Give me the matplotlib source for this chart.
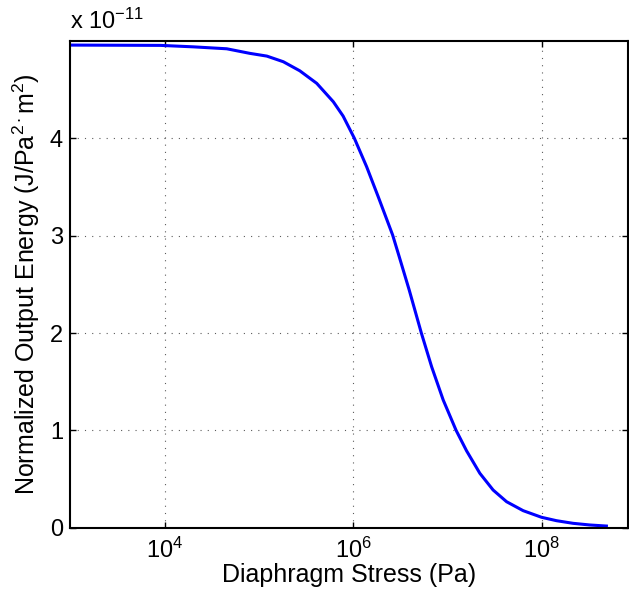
#!/usr/bin/env python3
"""Normalized output energy vs diaphragm stress."""

import numpy as np
import matplotlib
matplotlib.use("Agg")
import matplotlib.pyplot as plt
import matplotlib.ticker as ticker

plt.rcParams["font.family"] = ["Liberation Sans", "DejaVu Sans"]
plt.rcParams["mathtext.fontset"] = "custom"
plt.rcParams["mathtext.rm"] = "Liberation Sans"
plt.rcParams["mathtext.it"] = "Liberation Sans"
plt.rcParams["mathtext.default"] = "regular"

# ── Data (log10 stress, energy in 1e-11 units) ───────────────────────────────
log_stress = [2.99, 3.95, 4.30, 4.655, 4.90, 5.08, 5.255, 5.43, 5.61, 5.786,
              5.89, 6.01, 6.14, 6.263, 6.416, 6.486, 6.592, 6.72, 6.83,
              6.953, 7.09, 7.201, 7.342, 7.483, 7.626, 7.802, 7.997, 8.156,
              8.332, 8.509, 8.686]
energy_e11 = [4.958, 4.955, 4.94, 4.92, 4.873, 4.845, 4.787, 4.694, 4.565,
              4.376, 4.229, 4.0, 3.708, 3.40, 3.007, 2.784, 2.442, 2.003,
              1.654, 1.312, 1.0, 0.79, 0.559, 0.387, 0.267, 0.175, 0.107,
              0.072, 0.045, 0.028, 0.017]

x_ticks = [1e4, 1e6, 1e8]
y_ticks = [0, 1, 2, 3, 4]

stress = 10 ** np.array(log_stress)
energy = np.array(energy_e11)

# ── Figure ───────────────────────────────────────────────────────────────────
fig = plt.figure(figsize=(6.29, 5.98), dpi=100)
ax = fig.add_axes([70 / 629, 70.3 / 598, 557.5 / 629, 486.7 / 598])

ax.semilogx(stress, energy, "-", color="#0000ff", linewidth=2.2,
            solid_joinstyle="round")

ax.set_xlim(10 ** 2.99, 10 ** 8.91)
ax.set_ylim(0, 5.0)
ax.xaxis.set_major_locator(ticker.FixedLocator(x_ticks))
ax.xaxis.set_minor_locator(ticker.NullLocator())
ax.xaxis.set_major_formatter(ticker.LogFormatterMathtext())
ax.set_yticks(y_ticks)

ax.tick_params(which="both", direction="in", top=True, right=True,
               length=4, width=1, labelsize=17)
ax.tick_params(axis="x", pad=7)
ax.tick_params(axis="y", pad=5)
for s in ax.spines.values():
    s.set_linewidth(1.5)

ax.grid(True, which="major", linestyle=(0, (1, 5.5)), color="#333333",
        linewidth=0.8, alpha=0.8)

ax.set_xlabel("Diaphragm Stress (Pa)", fontsize=18, labelpad=0)
ax.set_ylabel(r"Normalized Output Energy (J/Pa$^{2\cdot}$m$^{2}$)",
              fontsize=18, labelpad=6)

ax.text(0.0, 1.014, r"x 10$^{-11}$", transform=ax.transAxes,
        ha="left", va="bottom", fontsize=17)

fig.savefig("out.png", dpi=100)
print("Saved: out.png")
plt.close()
